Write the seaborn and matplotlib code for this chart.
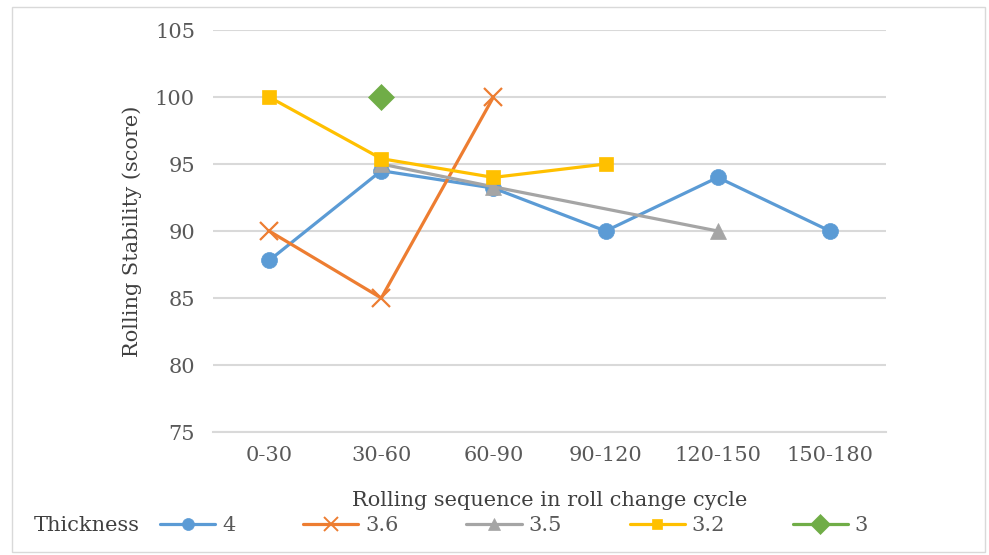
import numpy as np
import pandas as pd
import matplotlib
matplotlib.use("Agg")
import matplotlib.pyplot as plt
import seaborn as sns
from matplotlib.patches import Rectangle

categories = ["0-30", "30-60", "60-90", "90-120", "120-150", "150-180"]
series_names = ["4", "3.6", "3.5", "3.2", "3"]
s_4 = [87.8, 94.5, 93.2, 90.0, 94.0, 90.0]
s_3_6 = [90.0, 85.0, 100.0, None, None, None]
s_3_5 = [None, 95.0, 93.3, None, 90.0, None]
s_3_2 = [100.0, 95.4, 94.0, 95.0, None, None]
s_3 = [None, 100.0, None, None, None, None]
yticks = [75, 80, 85, 90, 95, 100, 105]

sns.set_style("white")
plt.rcParams['font.family'] = ['DejaVu Serif']

colors = ["#5B9BD5", "#ED7D31", "#A5A5A5", "#FFC000", "#70AD47"]
markers = ["o", "x", "^", "s", "D"]
msizes = [11.5, 13, 11, 10, 13]
values = [s_4, s_3_6, s_3_5, s_3_2, s_3]

fig = plt.figure(figsize=(9.89, 5.55), dpi=100)
ax = fig.add_axes([0.2154, 0.2216, 0.6805, 0.7243])

handles = []
for name, vals, c, m, ms in zip(series_names, values, colors, markers, msizes):
    df = pd.DataFrame({"pos": np.arange(len(categories)), "val": vals}).dropna()
    sns.lineplot(data=df, x="pos", y="val", ax=ax, color=c, lw=2.3,
                 marker=m, markersize=ms, markeredgecolor=c,
                 markeredgewidth=1.6 if m == "x" else 0.5, legend=False)
    h, = ax.plot([], [], color=c, lw=2.3, marker=m, markersize=ms * 0.75,
                 markeredgecolor=c, markeredgewidth=1.4 if m == "x" else 0.5)
    handles.append(h)

ax.set_xlim(-0.5, len(categories) - 0.5)
ax.set_ylim(75, 105)
ax.set_yticks(yticks)
ax.set_xticks(np.arange(len(categories)))
ax.set_xticklabels(categories)
ax.yaxis.grid(True, color="#D9D9D9", lw=1.5)
ax.set_axisbelow(True)
for sp in ["top", "right", "left"]:
    ax.spines[sp].set_visible(False)
ax.spines["bottom"].set_color("#D9D9D9")
ax.spines["bottom"].set_linewidth(1.5)
ax.tick_params(axis="both", length=0, labelsize=15, colors="#595959", pad=10)
ax.tick_params(axis="y", pad=13)
ax.set_xlabel("Rolling sequence in roll change cycle", fontsize=15, color="#404040", labelpad=19)
ax.set_ylabel("Rolling Stability (score)", fontsize=15, color="#404040", labelpad=9)

fig.text(0.034, 0.053, "Thickness", fontsize=15, color="#404040", va="center", ha="left")
leg = fig.legend(handles, series_names, loc="center left", bbox_to_anchor=(0.143, 0.053),
                 ncol=5, frameon=False, fontsize=15, handlelength=2.65, handletextpad=0.33,
                 columnspacing=3.25, labelcolor="#595959")

fig.patches.append(Rectangle((12 / 989, 3 / 555), 973 / 989, 545 / 555, transform=fig.transFigure,
                             fill=False, edgecolor="#D9D9D9", lw=1.0))

fig.savefig("out.png", dpi=100, facecolor="white")
